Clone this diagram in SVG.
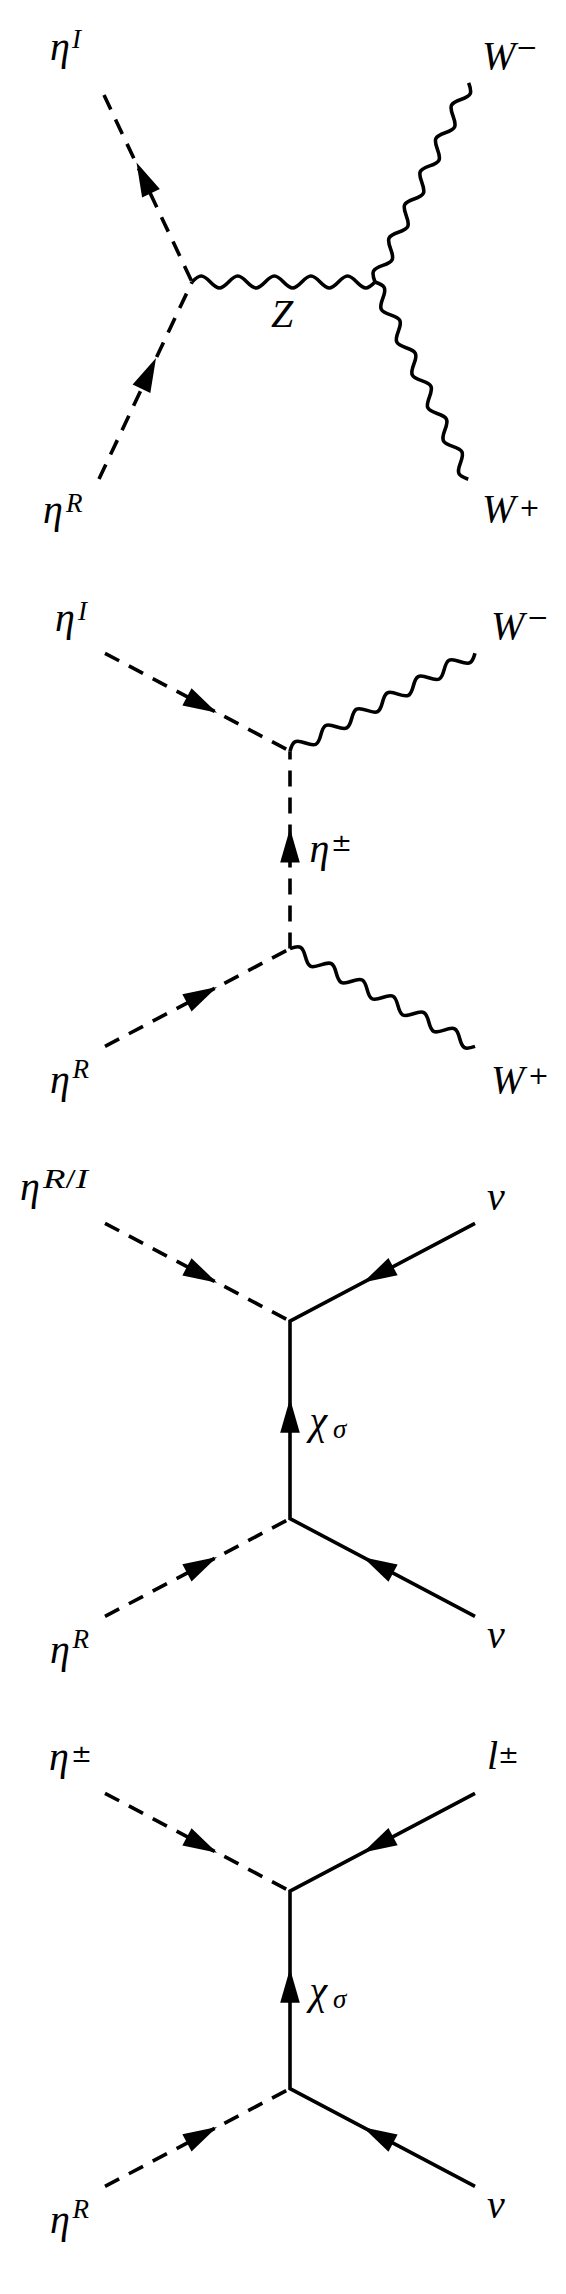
<svg xmlns="http://www.w3.org/2000/svg" xmlns:xlink="http://www.w3.org/1999/xlink" width="566" height="2294" viewBox="0 0 566 2294">
<style>
.ln{fill:none;stroke:#000;stroke-width:3.6}
.sc{stroke-dasharray:16 11}
.ph{fill:none;stroke:#000;stroke-width:3.6}
.m{font-family:"Liberation Serif",serif;font-style:italic;font-size:40px;fill:#000}
.s{font-family:"Liberation Serif",serif;font-style:italic;font-size:27px;fill:#000}
.o{font-family:"DejaVu Serif",serif;font-size:25px;fill:#000}
</style>
<defs>
<path id="ah" d="M0,0 L-34,-9.8 L-34,9.8 Z" fill="#000"/>
</defs>
<rect width="566" height="2294" fill="#fff"/>

<g id="connectors">
  <!-- diagram 1 -->
  <path class="ln sc" d="M104,95 L192,282"/>
  <path class="ln sc" d="M99,479 L192,282"/>
  <path class="ph" transform="translate(192,282)" d="M0,0 c7.77,-8 10.53,-8 18.3,0 c7.77,8 10.53,8 18.3,0 c7.77,-8 10.53,-8 18.3,0 c7.77,8 10.53,8 18.3,0 c7.77,-8 10.53,-8 18.3,0 c7.77,8 10.53,8 18.3,0 c7.77,-8 10.53,-8 18.3,0 c7.77,8 10.53,8 18.3,0 c7.77,-8 10.53,-8 18.3,0 c7.77,8 10.53,8 18.3,0"/>
  <path class="ph" transform="translate(375,282) rotate(-64.8)" d="M0,0 c7.78,-8 10.55,-8 18.33,0 c7.78,8 10.55,8 18.33,0 c7.78,-8 10.55,-8 18.33,0 c7.78,8 10.55,8 18.33,0 c7.78,-8 10.55,-8 18.33,0 c7.78,8 10.55,8 18.33,0 c7.78,-8 10.55,-8 18.33,0 c7.78,8 10.55,8 18.33,0 c7.78,-8 10.55,-8 18.33,0 c7.78,8 10.55,8 18.33,0 c7.78,-8 10.55,-8 18.33,0 c7.78,8 10.55,8 18.33,0"/>
  <path class="ph" transform="translate(375,282) rotate(64.7)" d="M0,0 c7.72,-8 10.47,-8 18.18,0 c7.72,8 10.47,8 18.18,0 c7.72,-8 10.47,-8 18.18,0 c7.72,8 10.47,8 18.18,0 c7.72,-8 10.47,-8 18.18,0 c7.72,8 10.47,8 18.18,0 c7.72,-8 10.47,-8 18.18,0 c7.72,8 10.47,8 18.18,0 c7.72,-8 10.47,-8 18.18,0 c7.72,8 10.47,8 18.18,0 c7.72,-8 10.47,-8 18.18,0 c7.72,8 10.47,8 18.18,0"/>
  <use xlink:href="#ah" href="#ah" transform="translate(136.5,162.5) rotate(-115.2)"/>
  <use xlink:href="#ah" href="#ah" transform="translate(156,358) rotate(-64.7)"/>

  <!-- diagram 2 -->
  <path class="ln sc" d="M105,653.3 L290,751.2"/>
  <path class="ln sc" d="M105,1046.4 L290,948.6"/>
  <path class="ln sc" d="M290,948.6 L290,751.2"/>
  <path class="ph" transform="translate(290,751.2) rotate(-27.89)" d="M0,0 c7.4,-8 10.04,-8 17.44,0 c7.4,8 10.04,8 17.44,0 c7.4,-8 10.04,-8 17.44,0 c7.4,8 10.04,8 17.44,0 c7.4,-8 10.04,-8 17.44,0 c7.4,8 10.04,8 17.44,0 c7.4,-8 10.04,-8 17.44,0 c7.4,8 10.04,8 17.44,0 c7.4,-8 10.04,-8 17.44,0 c7.4,8 10.04,8 17.44,0 c7.4,-8 10.04,-8 17.44,0 c7.4,8 10.04,8 17.44,0"/>
  <path class="ph" transform="translate(290,948.6) rotate(27.86)" d="M0,0 c7.4,-8 10.04,-8 17.44,0 c7.4,8 10.04,8 17.44,0 c7.4,-8 10.04,-8 17.44,0 c7.4,8 10.04,8 17.44,0 c7.4,-8 10.04,-8 17.44,0 c7.4,8 10.04,8 17.44,0 c7.4,-8 10.04,-8 17.44,0 c7.4,8 10.04,8 17.44,0 c7.4,-8 10.04,-8 17.44,0 c7.4,8 10.04,8 17.44,0 c7.4,-8 10.04,-8 17.44,0 c7.4,8 10.04,8 17.44,0"/>
  <use xlink:href="#ah" href="#ah" transform="translate(217,712.7) rotate(27.9)"/>
  <use xlink:href="#ah" href="#ah" transform="translate(217,986.9) rotate(-27.9)"/>
  <use xlink:href="#ah" href="#ah" transform="translate(290,828.5) rotate(-90)"/>

  <!-- diagram 3 -->
  <path class="ln sc" d="M105,1223.3 L290,1321.2"/>
  <path class="ln sc" d="M105,1616.4 L290,1518.6"/>
  <path class="ln" d="M475,1223.3 L290,1321.2 L290,1518.6 L475,1616.4"/>
  <use xlink:href="#ah" href="#ah" transform="translate(217,1282.7) rotate(27.9)"/>
  <use xlink:href="#ah" href="#ah" transform="translate(217,1557) rotate(-27.9)"/>
  <use xlink:href="#ah" href="#ah" transform="translate(363,1282.6) rotate(152.1)"/>
  <use xlink:href="#ah" href="#ah" transform="translate(363,1557.2) rotate(-152.1)"/>
  <use xlink:href="#ah" href="#ah" transform="translate(290,1398.8) rotate(-90)"/>

  <!-- diagram 4 -->
  <path class="ln sc" d="M105,1793.3 L290,1891.2"/>
  <path class="ln sc" d="M105,2186.4 L290,2088.6"/>
  <path class="ln" d="M475,1793.3 L290,1891.2 L290,2088.6 L475,2186.4"/>
  <use xlink:href="#ah" href="#ah" transform="translate(217,1852.7) rotate(27.9)"/>
  <use xlink:href="#ah" href="#ah" transform="translate(217,2127) rotate(-27.9)"/>
  <use xlink:href="#ah" href="#ah" transform="translate(363,1852.6) rotate(152.1)"/>
  <use xlink:href="#ah" href="#ah" transform="translate(363,2127.2) rotate(-152.1)"/>
  <use xlink:href="#ah" href="#ah" transform="translate(290,1968.8) rotate(-90)"/>
</g>

<!-- diagram 1 labels -->
<g id="d1-etaI"><text class="m" x="50" y="60">η</text><text class="s" x="72" y="48">I</text></g>
<g id="d1-Wm"><text class="m" x="482" y="69">W</text><text class="o" x="516" y="56" textLength="22" lengthAdjust="spacingAndGlyphs">−</text></g>
<g id="d1-Z"><text class="m" x="271" y="327">Z</text></g>
<g id="d1-etaR"><text class="m" x="43" y="523">η</text><text class="s" x="66" y="512">R</text></g>
<g id="d1-Wp"><text class="m" x="482" y="521.5">W</text><text class="o" x="519" y="516">+</text></g>

<!-- diagram 2 labels -->
<g id="d2-etaI"><text class="m" x="55" y="630.5">η</text><text class="s" x="78" y="620">I</text></g>
<g id="d2-Wm"><text class="m" x="491" y="639">W</text><text class="o" x="527" y="626" textLength="22" lengthAdjust="spacingAndGlyphs">−</text></g>
<g id="d2-etapm"><text class="m" x="309.5" y="862">η</text><text class="o" x="331" y="851">±</text></g>
<g id="d2-etaR"><text class="m" x="50" y="1093">η</text><text class="s" x="72.6" y="1078">R</text></g>
<g id="d2-Wp"><text class="m" x="491" y="1093">W</text><text class="o" x="528" y="1084">+</text></g>

<!-- diagram 3 labels -->
<g id="d3-etaRI"><text class="m" x="20" y="1200">η</text><text class="s" x="43" y="1188" textLength="45" lengthAdjust="spacingAndGlyphs">R<tspan font-style="normal">/</tspan>I</text></g>
<g id="d3-nu1"><text class="m" x="487" y="1210">ν</text></g>
<g id="d3-chi"><text class="m" x="309.5" y="1434">χ</text><text class="s" x="333" y="1438">σ</text></g>
<g id="d3-etaR"><text class="m" x="50" y="1663">η</text><text class="s" x="72.6" y="1648">R</text></g>
<g id="d3-nu2"><text class="m" x="487" y="1648">ν</text></g>

<!-- diagram 4 labels -->
<g id="d4-etapm"><text class="m" x="49" y="1770">η</text><text class="o" x="71" y="1762">±</text></g>
<g id="d4-lpm"><text class="m" x="487" y="1769">l</text><text class="o" x="498" y="1763">±</text></g>
<g id="d4-chi"><text class="m" x="309.5" y="2004">χ</text><text class="s" x="333" y="2008">σ</text></g>
<g id="d4-etaR"><text class="m" x="50" y="2233">η</text><text class="s" x="72.6" y="2218">R</text></g>
<g id="d4-nu"><text class="m" x="487" y="2218">ν</text></g>
</svg>
